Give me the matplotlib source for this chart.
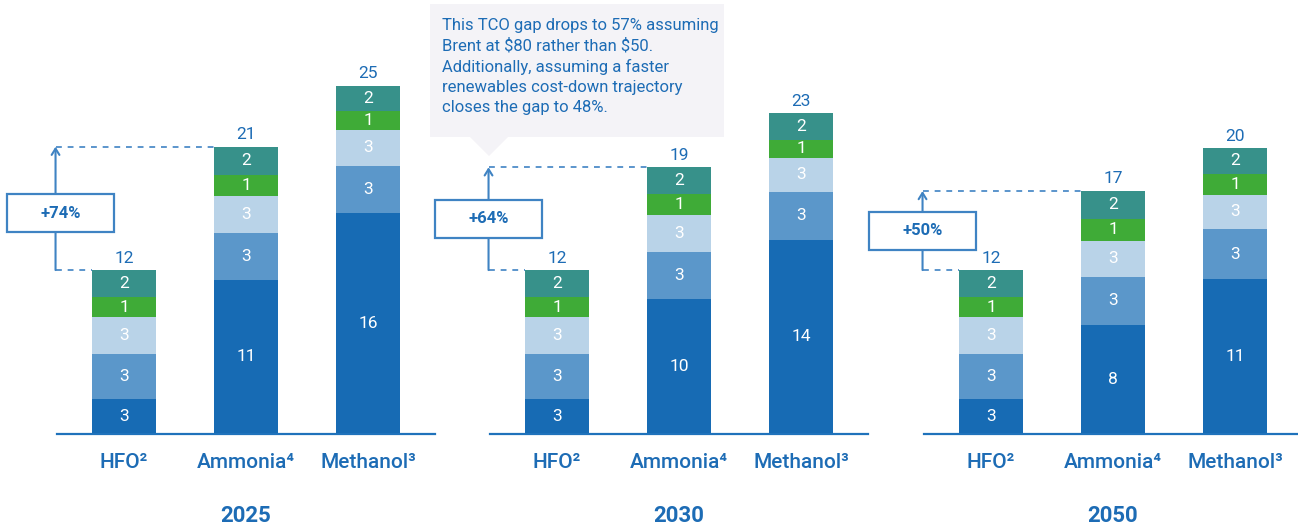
import matplotlib
matplotlib.use('Agg')
import matplotlib.pyplot as plt
from matplotlib.patches import Rectangle, Polygon

plt.rcParams['font.family'] = ['Roboto', 'DejaVu Sans']

# ---------------- data ----------------
years = ['2025', '2030', '2050']
fuels = ['HFO²', 'Ammonia⁴', 'Methanol³']
# cost components, bottom to top of each stack
components = ['Component A', 'Component B', 'Component C', 'Component D', 'Component E']

# segment heights (rows: HFO, Ammonia, Methanol)
values_2025 = [[2.56, 3.26, 2.63, 1.47, 1.96],
               [11.18, 3.41, 2.63, 1.57, 2.03],
               [16.04, 3.41, 2.56, 1.38, 1.86]]
values_2030 = [[2.56, 3.26, 2.63, 1.47, 1.96],
               [9.80, 3.38, 2.70, 1.52, 1.93],
               [14.08, 3.45, 2.49, 1.30, 1.93]]
values_2050 = [[2.56, 3.26, 2.63, 1.47, 1.96],
               [7.90, 3.48, 2.63, 1.57, 2.03],
               [11.23, 3.62, 2.49, 1.52, 1.86]]

# printed (rounded) segment labels
labels_2025 = [[3, 3, 3, 1, 2], [11, 3, 3, 1, 2], [16, 3, 3, 1, 2]]
labels_2030 = [[3, 3, 3, 1, 2], [10, 3, 3, 1, 2], [14, 3, 3, 1, 2]]
labels_2050 = [[3, 3, 3, 1, 2], [8, 3, 3, 1, 2], [11, 3, 3, 1, 2]]

# printed totals
totals_2025 = [12, 21, 25]
totals_2030 = [12, 19, 23]
totals_2050 = [12, 17, 20]

gap_labels = ['+74%', '+64%', '+50%']

callout_text = ("This TCO gap drops to 57% assuming\n"
                "Brent at $80 rather than $50.\n"
                "Additionally, assuming a faster\n"
                "renewables cost-down trajectory\n"
                "closes the gap to 48%.")

values = [values_2025, values_2030, values_2050]
labels = [labels_2025, labels_2030, labels_2050]
totals = [totals_2025, totals_2030, totals_2050]

# ---------------- style ----------------
seg_colors = ['#176bb4', '#5b97ca', '#b9d3e8', '#3fab37', '#37918a']
blue_text = '#1d6cb5'
line_blue = '#3f83c3'
axis_blue = '#1f72bb'
callout_bg = '#f4f3f7'

W, H = 1298, 529
fig = plt.figure(figsize=(W / 100, H / 100), dpi=100)

panel_left_px = [57, 490, 924]
panel_w_px = 378
base_px = 434
bar_w = 0.525
xlim = (-0.549, 2.549)
px_per_x = panel_w_px / (xlim[1] - xlim[0])
px_per_y = 13.8
ylim = (0, base_px / px_per_y)
# pixel nudges of the gap boxes (right, down)
box_nudge_px = [(5, 5), (0, 0), (0, 0)]

for p in range(3):
    ax = fig.add_axes([panel_left_px[p] / W, (H - base_px) / H,
                       panel_w_px / W, base_px / H])
    ax.set_xlim(*xlim)
    ax.set_ylim(*ylim)
    for s in ['top', 'right', 'left']:
        ax.spines[s].set_visible(False)
    ax.spines['bottom'].set_color(axis_blue)
    ax.spines['bottom'].set_linewidth(1.6)
    ax.set_xticks([])
    ax.set_yticks([])
    ax.patch.set_alpha(0)

    vals = values[p]
    tops = []
    for i in range(3):
        bottom = 0.0
        for j in range(len(components)):
            h = vals[i][j]
            ax.bar(i, h, bottom=bottom, width=bar_w, color=seg_colors[j],
                   linewidth=0, zorder=2)
            ax.text(i, bottom + h / 2, str(labels[p][i][j]), color='white',
                    ha='center', va='center', fontsize=12.5, zorder=3)
            bottom += h
        tops.append(bottom)
        ax.annotate(str(totals[p][i]), xy=(i, bottom), xytext=(0, 12),
                    textcoords='offset pixels', ha='center', va='center',
                    color=blue_text, fontsize=12.5)
        ax.annotate(fuels[i], xy=(i, 0), xycoords=('data', 'axes fraction'),
                    xytext=(0, -28), textcoords='offset pixels',
                    ha='center', va='center', color=blue_text, fontsize=15,
                    fontweight='medium', annotation_clip=False)

    ax.annotate(years[p], xy=(1, 0), xycoords=('data', 'axes fraction'),
                xytext=(0, -82), textcoords='offset pixels',
                ha='center', va='center', color=blue_text, fontsize=16,
                fontweight='bold', annotation_clip=False)

    # gap bracket between HFO and Ammonia
    xl = xlim[0] - 0.012
    t_h, t_a = tops[0], tops[1]
    ax.plot([xl, 1 - bar_w / 2], [t_a, t_a], color=line_blue, lw=1.2,
            ls=(0, (3.5, 3.5)), clip_on=False, zorder=1)
    ax.plot([xl, 0 - bar_w / 2], [t_h, t_h], color=line_blue, lw=1.2,
            ls=(0, (3.5, 3.5)), clip_on=False, zorder=1)
    ax.annotate('', xy=(xl, t_a), xytext=(xl, t_h),
                arrowprops=dict(arrowstyle='->,head_length=0.45,head_width=0.28',
                                color=line_blue, lw=1.5, shrinkA=0, shrinkB=0),
                annotation_clip=False)
    bw = 107 / px_per_x
    bh = 38 / px_per_y
    bx = xl + box_nudge_px[p][0] / px_per_x
    by = (t_a + t_h) / 2 - box_nudge_px[p][1] / px_per_y
    ax.add_patch(Rectangle((bx - bw / 2, by - bh / 2), bw, bh,
                           facecolor='white', edgecolor=line_blue, lw=1.6,
                           clip_on=False, zorder=5))
    ax.text(bx, by, gap_labels[p], ha='center', va='center', color=blue_text,
            fontsize=12, fontweight='bold', zorder=6)

# ---------------- callout ----------------
ov = fig.add_axes([0, 0, 1, 1], zorder=10)
ov.set_xlim(0, W)
ov.set_ylim(H, 0)
ov.axis('off')
ov.patch.set_alpha(0)
ov.add_patch(Polygon([(430, 4), (724, 4), (724, 137), (508, 137), (489, 156),
                      (470, 137), (430, 137)], closed=True,
                     facecolor=callout_bg, edgecolor='none'))
ov.text(442, 18, callout_text, ha='left', va='top', color=blue_text,
        fontsize=12, linespacing=1.42, parse_math=False)

fig.savefig('out.png', dpi=100)
